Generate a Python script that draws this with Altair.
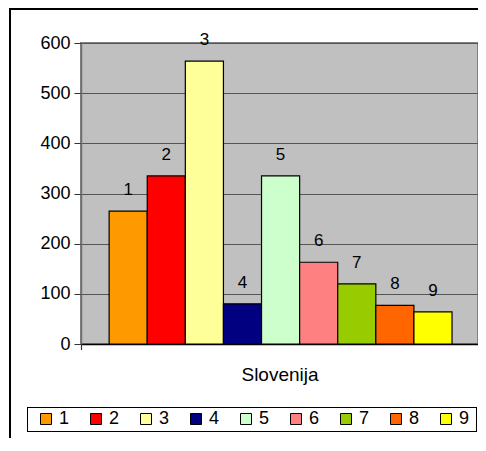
import altair as alt
import pandas as pd

series = ["1", "2", "3", "4", "5", "6", "7", "8", "9"]
values = [265, 335, 564, 80, 335, 163, 120, 77, 64]
colors = ["#FF9900", "#FF0000", "#FFFF99", "#000080", "#CCFFCC",
          "#FF8080", "#99CC00", "#FF6600", "#FFFF00"]
category = "Slovenija"
y_ticks = [0, 100, 200, 300, 400, 500, 600]

df = pd.DataFrame({"series": series, "value": values})

FONT = "Liberation Sans"
W, H = 397, 301

x_enc = alt.X("series:N", sort=series,
              scale=alt.Scale(paddingInner=0, paddingOuter=0.71, align=0.52),
              axis=alt.Axis(labels=False, ticks=False, title=category,
                            titleFont=FONT, titleFontSize=19, titleFontWeight="normal",
                            titleColor="black", titlePadding=21,
                            domainColor="black", domainWidth=1.5, grid=False))
y_enc = alt.Y("value:Q",
              scale=alt.Scale(domain=[0, 600], nice=False),
              axis=alt.Axis(values=y_ticks, title=None, labelFont=FONT, labelFontSize=18,
                            labelColor="black", labelPadding=4, tickSize=7,
                            tickColor="#333333", domainColor="#707070", domainWidth=1.5,
                            grid=True, gridColor="#555555", gridWidth=1))

bars = alt.Chart(df).mark_bar(stroke="black", strokeWidth=1.2).encode(
    x=x_enc,
    y=y_enc,
    color=alt.Color("series:N", sort=series,
                    scale=alt.Scale(domain=series, range=colors),
                    legend=alt.Legend(orient="none", legendX=-44, legendY=367,
                                      direction="horizontal", columns=9, title=None,
                                      symbolType="square", symbolSize=121,
                                      symbolStrokeColor="black", symbolStrokeWidth=1,
                                      symbolOpacity=1,
                                      labelFont=FONT, labelFontSize=18, labelColor="black",
                                      labelOffset=4, columnPadding=17, padding=0)),
)

labels = alt.Chart(df).mark_text(font=FONT, fontSize=17, color="black",
                                 baseline="alphabetic", dy=-16).encode(
    x=alt.X("series:N", sort=series),
    y=alt.Y("value:Q"),
    text="series:N",
)

deco = alt.Data(values=[{}])
end_tick_left = alt.Chart(deco).mark_rule(color="#333333", strokeWidth=1.2).encode(
    x=alt.value(0.5), y=alt.value(H), y2=alt.value(H + 6))
frame_left = alt.Chart(deco).mark_rule(color="black", strokeWidth=2).encode(
    x=alt.value(-71), y=alt.value(-35), y2=alt.value(420))
frame_top = alt.Chart(deco).mark_rule(color="black", strokeWidth=2).encode(
    x=alt.value(-72), x2=alt.value(410), y=alt.value(-34))
box_top = alt.Chart(deco).mark_rule(color="black", strokeWidth=1).encode(
    x=alt.value(-54), x2=alt.value(396), y=alt.value(364.5))
box_bottom = alt.Chart(deco).mark_rule(color="black", strokeWidth=1).encode(
    x=alt.value(-54), x2=alt.value(396), y=alt.value(388.5))
box_left = alt.Chart(deco).mark_rule(color="black", strokeWidth=1).encode(
    x=alt.value(-53.5), y=alt.value(364.5), y2=alt.value(388.5))
box_right = alt.Chart(deco).mark_rule(color="black", strokeWidth=1).encode(
    x=alt.value(395.5), y=alt.value(364.5), y2=alt.value(388.5))

chart = alt.layer(bars, labels, end_tick_left, frame_left, frame_top,
                  box_top, box_bottom, box_left, box_right).properties(
    width=W, height=H,
    autosize=alt.AutoSizeParams(type="none"),
    padding={"left": 73, "top": 35, "right": 0, "bottom": 94},
    background="white",
).configure_view(
    fill="#C0C0C0", stroke="#808080", strokeWidth=2
)

chart.save("out.html", embed_options={"renderer": "svg", "actions": False})
